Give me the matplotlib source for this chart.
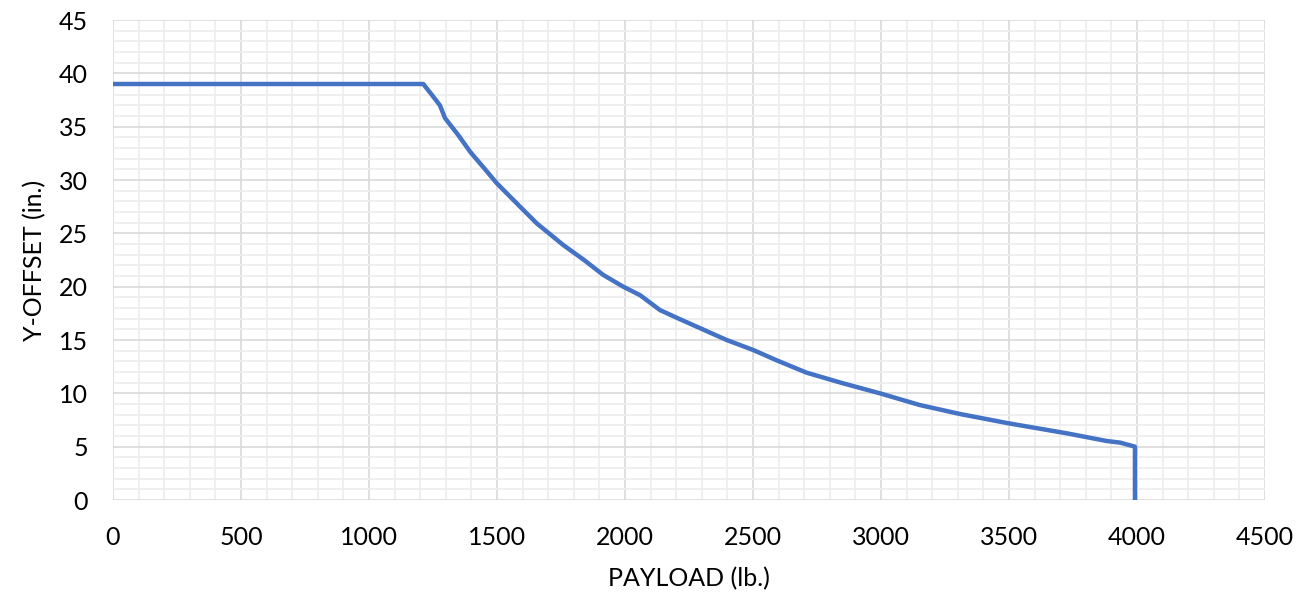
import matplotlib
matplotlib.use("Agg")
import matplotlib.pyplot as plt
from matplotlib.ticker import MultipleLocator

payload = [0, 1212, 1245, 1277, 1297, 1349, 1395, 1450, 1499, 1590, 1655, 1759,
           1840, 1915, 1993, 2059, 2137, 2210, 2280, 2397, 2501, 2592, 2709, 2850,
           2996, 3152, 3309, 3498, 3726, 3882, 3934, 3992, 3992]
y_offset = [39.0, 39.0, 38.0, 37.0, 35.8, 34.2, 32.65, 31.1, 29.7, 27.5, 25.94, 23.9,
            22.5, 21.1, 20.0, 19.2, 17.8, 17.0, 16.25, 15.0, 14.06, 13.1, 11.94, 10.95,
            10.0, 8.9, 8.06, 7.19, 6.25, 5.53, 5.38, 5.0, 0.0]

x_ticks = [0, 500, 1000, 1500, 2000, 2500, 3000, 3500, 4000, 4500]
y_ticks = [0, 5, 10, 15, 20, 25, 30, 35, 40, 45]

plt.rcParams['font.family'] = ['Lato', 'DejaVu Sans']

fig = plt.figure(figsize=(13, 6.01), dpi=100)
ax = fig.add_axes([113/1300, 1-500/601, (1265-113)/1300, (500-20)/601])

ax.plot(payload, y_offset, color='#4472C4', linewidth=3.2, solid_joinstyle='round', zorder=3)

ax.set_xlim(0, 4500)
ax.set_ylim(0, 45)
ax.set_xticks(x_ticks)
ax.set_yticks(y_ticks)
ax.xaxis.set_minor_locator(MultipleLocator(100))
ax.yaxis.set_minor_locator(MultipleLocator(1))
ax.grid(which='minor', color='#EEEEEE', linewidth=1.2, zorder=0)
ax.grid(which='major', color='#D9D9D9', linewidth=1.2, zorder=1)
ax.set_axisbelow(True)
for s in ax.spines.values():
    s.set_visible(False)
ax.tick_params(which='both', length=0)
ax.tick_params(axis='x', labelsize=18, pad=19, colors='black')
ax.tick_params(axis='y', labelsize=18, pad=18, colors='black')

ax.set_xlabel('PAYLOAD (lb.)', fontsize=18, labelpad=13)
ax.set_ylabel('Y-OFFSET (in.)', fontsize=18, labelpad=9)

fig.savefig('out.png', dpi=100)
